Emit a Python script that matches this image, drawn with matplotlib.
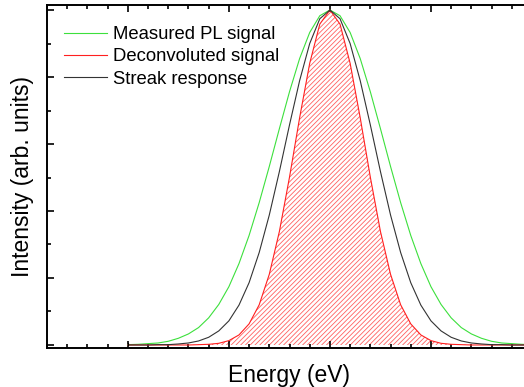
import matplotlib
matplotlib.use("Agg")
import matplotlib.pyplot as plt
from matplotlib.ticker import MultipleLocator, NullFormatter

plt.rcParams["font.family"] = ["Liberation Sans", "DejaVu Sans"]
plt.rcParams["hatch.color"] = "#ff6060"
plt.rcParams["hatch.linewidth"] = 0.6

# energy axis in arbitrary units (centre of the peak at 0)
energy = [-2.0, -1.9, -1.8, -1.7, -1.6, -1.5, -1.4, -1.3, -1.2, -1.1,
          -1.0, -0.9, -0.8, -0.7, -0.6, -0.5, -0.4, -0.3, -0.2, -0.1,
          0.0,
          0.1, 0.2, 0.3, 0.4, 0.5, 0.6, 0.7, 0.8, 0.9, 1.0,
          1.1, 1.2, 1.3, 1.4, 1.5, 1.6, 1.7, 1.8, 1.9, 2.0]

measured = [0.001, 0.002, 0.004, 0.006, 0.011, 0.020, 0.033, 0.052, 0.081, 0.121,
            0.174, 0.243, 0.327, 0.425, 0.533, 0.646, 0.756, 0.855, 0.933, 0.983,
            1.000,
            0.983, 0.933, 0.855, 0.756, 0.646, 0.533, 0.425, 0.327, 0.243, 0.174,
            0.121, 0.081, 0.052, 0.033, 0.020, 0.011, 0.006, 0.004, 0.002, 0.001]

streak = [0.000, 0.000, 0.000, 0.001, 0.001, 0.003, 0.006, 0.012, 0.023, 0.042,
          0.072, 0.119, 0.186, 0.276, 0.388, 0.518, 0.657, 0.789, 0.900, 0.974,
          1.000,
          0.974, 0.900, 0.789, 0.657, 0.518, 0.388, 0.276, 0.186, 0.119, 0.072,
          0.042, 0.023, 0.012, 0.006, 0.003, 0.001, 0.001, 0.000, 0.000, 0.000]

deconvoluted = [0.000, 0.000, 0.000, 0.000, 0.000, 0.000, 0.000, 0.001, 0.002, 0.005,
                0.013, 0.030, 0.063, 0.120, 0.211, 0.339, 0.501, 0.678, 0.841, 0.958,
                1.000,
                0.958, 0.841, 0.678, 0.501, 0.339, 0.211, 0.120, 0.063, 0.030, 0.013,
                0.005, 0.002, 0.001, 0.000, 0.000, 0.000, 0.000, 0.000, 0.000, 0.000]

fig = plt.figure(figsize=(5.24, 3.87), dpi=100)
ax = fig.add_axes([47 / 524, 1 - 348 / 387, 485 / 524, 343 / 387])

ax.plot(energy, measured, color="#3ce03c", lw=0.8, label="Measured PL signal")
ax.fill_between(energy, deconvoluted, 0, facecolor="none", edgecolor="#ff6060",
                hatch="///////", lw=0)
ax.plot(energy, deconvoluted, color="#ff2020", lw=0.8, label="Deconvoluted signal")
ax.plot(energy, streak, color="#333333", lw=0.8, label="Streak response")
ax.plot([energy[0], energy[0]], [0, measured[0] + 0.004], color="k", lw=0.8)

ax.set_xlim(-2.8, 2.0)
ax.set_ylim(-0.009, 1.015)
ax.xaxis.set_major_locator(MultipleLocator(1.0))
ax.xaxis.set_minor_locator(MultipleLocator(0.2))
ax.yaxis.set_major_locator(MultipleLocator(0.2))
ax.yaxis.set_minor_locator(MultipleLocator(0.1))
ax.xaxis.set_major_formatter(NullFormatter())
ax.yaxis.set_major_formatter(NullFormatter())
ax.tick_params(which="both", direction="in", top=True, right=True, width=1.2)
ax.tick_params(which="major", length=5)
ax.tick_params(which="minor", length=3)
for s in ax.spines.values():
    s.set_linewidth(1.4)

ax.set_xlabel("Energy (eV)", fontsize=16.5, labelpad=8)
ax.set_ylabel("Intensity (arb. units)", fontsize=16.5, labelpad=6)

ax.legend(loc="upper left", frameon=False, fontsize=13.3, handlelength=2.3,
          handletextpad=0.35, labelspacing=0.28, borderaxespad=0.75,
          bbox_to_anchor=(-0.008, 1.0))

fig.savefig("out.png", dpi=100)
